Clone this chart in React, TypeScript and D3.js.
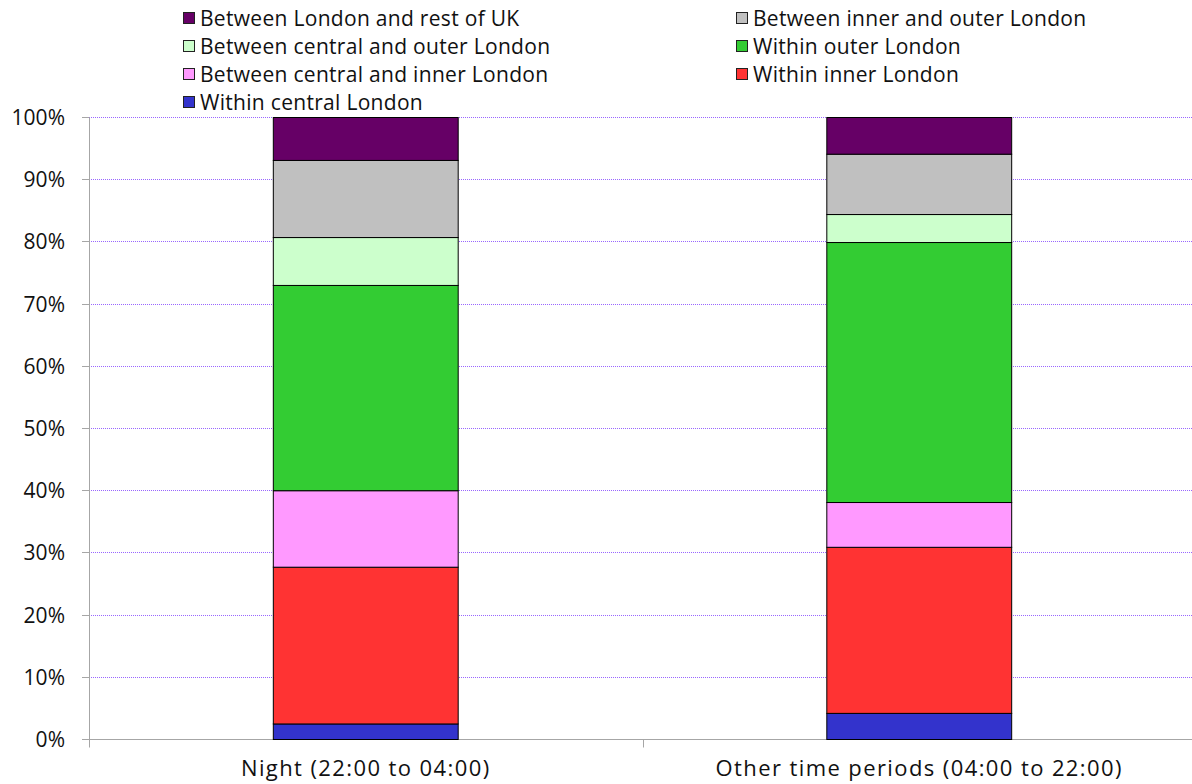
import React from "react";
import * as d3 from "d3";

const categories = ["Night (22:00 to 04:00)", "Other time periods (04:00 to 22:00)"];
const seriesNames = [
  "Within central London",
  "Within inner London",
  "Between central and inner London",
  "Within outer London",
  "Between central and outer London",
  "Between inner and outer London",
  "Between London and rest of UK",
];
const seriesColors = ["#3333cc", "#ff3333", "#ff99ff", "#33cc33", "#ccffcc", "#c0c0c0", "#660066"];
const nightValues = [2.5, 25.2, 12.3, 33.0, 7.7, 12.4, 6.9];
const otherValues = [4.2, 26.7, 7.2, 41.8, 4.5, 9.7, 5.9];
const yTicks = [0, 10, 20, 30, 40, 50, 60, 70, 80, 90, 100];
// legend order as shown (two columns, row-major)
const legendOrder = [6, 5, 4, 3, 2, 1, 0];

const W = 1192, H = 784;
const FONT = "'Open Sans', Lato, sans-serif";

export default function App() {
  const x = d3.scaleBand<string>().domain(categories).range([89, 1196]).padding(0);
  const y = d3.scaleLinear().domain([0, 100]).range([739.5, 117.5]);
  const values = [nightValues, otherValues];
  const barW = x.bandwidth() * 0.334;
  const gy = (t: number) => Math.round(y(t) - 0.5) + 0.5;

  const stackData = categories.map((c, ci) => {
    const obj: any = { cat: c };
    seriesNames.forEach((s, si) => (obj[s] = values[ci][si]));
    return obj;
  });
  const stacked = d3.stack<any>().keys(seriesNames)(stackData);

  const legX = [183, 736];
  const legY = [18, 46, 74, 102];

  return (
    <svg width={W} height={H} style={{ position: "absolute", left: 0, top: 0 }} fontFamily={FONT}>
      <rect width={W} height={H} fill="#fff" />
      {yTicks.map((t) => (
        <g key={t}>
          {t > 0 && (
            <line x1={89} x2={W} y1={gy(t)} y2={gy(t)} stroke="#9966ff" strokeWidth={1} strokeDasharray="1 1" />
          )}
          <line x1={82} x2={89} y1={gy(t)} y2={gy(t)} stroke="#a6a6a6" />
          <text x={65} y={y(t)} dy="0.36em" textAnchor="end" fontSize={21} fill="#111">
            {t}%
          </text>
        </g>
      ))}
      <line x1={89.5} x2={89.5} y1={y(100)} y2={y(0)} stroke="#a6a6a6" />
      <line x1={89} x2={W} y1={gy(0)} y2={gy(0)} stroke="#a6a6a6" />
      {[0, 1, 2].map((i) => {
        const xx = Math.round(89 + i * x.step()) + 0.5;
        return <line key={i} x1={xx} x2={xx} y1={y(0)} y2={y(0) + 8} stroke="#a6a6a6" />;
      })}
      {stacked.map((layer, si) => (
        <g key={si}>
          {layer.map((d, ci) => {
            const cx = (x(categories[ci]) as number) + x.bandwidth() / 2;
            return (
              <rect
                key={ci}
                x={cx - barW / 2}
                y={y(d[1])}
                width={barW}
                height={y(d[0]) - y(d[1])}
                fill={seriesColors[si]}
                stroke="#000"
                strokeWidth={1}
              />
            );
          })}
        </g>
      ))}
      {categories.map((c) => (
        <text
          key={c}
          x={(x(c) as number) + x.bandwidth() / 2}
          y={776}
          textAnchor="middle"
          fontSize={22}
          letterSpacing={1.4}
          fill="#111"
        >
          {c}
        </text>
      ))}
      {legendOrder.map((si, k) => {
        const col = k % 2;
        const row = Math.floor(k / 2);
        const lx = legX[col];
        const ly = legY[row];
        return (
          <g key={si}>
            <rect x={lx + 0.5} y={ly - 5.5} width={11} height={11} fill={seriesColors[si]} stroke="#222" strokeWidth={1} />
            <text x={lx + 17} y={ly} dy="0.36em" fontSize={21} letterSpacing={0.3} fill="#111">
              {seriesNames[si]}
            </text>
          </g>
        );
      })}
    </svg>
  );
}
